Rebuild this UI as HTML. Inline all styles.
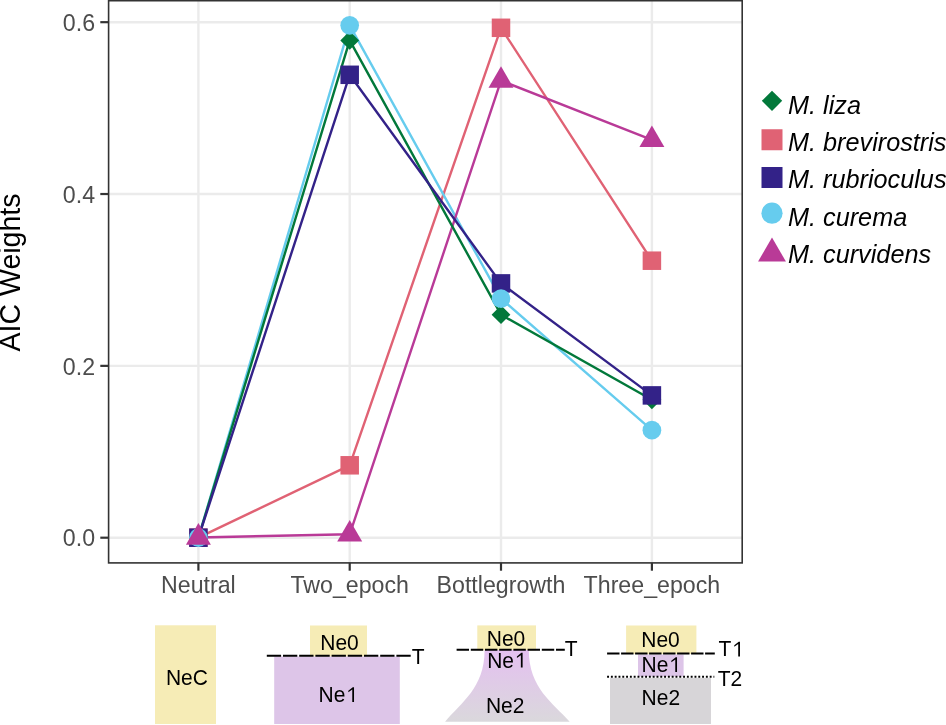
<!DOCTYPE html><html><head><meta charset="utf-8"><style>html,body{margin:0;padding:0;background:#fff;}svg{display:block;will-change:transform}text{font-family:"Liberation Sans",sans-serif;}</style></head><body>
<svg width="946" height="725" viewBox="0 0 946 725">
<rect width="946" height="725" fill="#fff"/>
<line x1="108.6" y1="537.70" x2="742.2" y2="537.70" stroke="#EBEBEB" stroke-width="2.4"/>
<line x1="108.6" y1="365.86" x2="742.2" y2="365.86" stroke="#EBEBEB" stroke-width="2.4"/>
<line x1="108.6" y1="194.02" x2="742.2" y2="194.02" stroke="#EBEBEB" stroke-width="2.4"/>
<line x1="108.6" y1="22.18" x2="742.2" y2="22.18" stroke="#EBEBEB" stroke-width="2.4"/>
<line x1="198.4" y1="0.7" x2="198.4" y2="562.9" stroke="#EBEBEB" stroke-width="2.4"/>
<line x1="349.7" y1="0.7" x2="349.7" y2="562.9" stroke="#EBEBEB" stroke-width="2.4"/>
<line x1="501.0" y1="0.7" x2="501.0" y2="562.9" stroke="#EBEBEB" stroke-width="2.4"/>
<line x1="651.9" y1="0.7" x2="651.9" y2="562.9" stroke="#EBEBEB" stroke-width="2.4"/>
<polyline points="198.40,537.70 349.70,465.30 501.00,27.80 651.90,260.70" fill="none" stroke="#E06274" stroke-width="2.4" stroke-linejoin="round" stroke-linecap="butt"/>
<polyline points="198.40,537.70 349.70,25.30 501.00,298.60 651.90,430.20" fill="none" stroke="#66CCEE" stroke-width="2.4" stroke-linejoin="round" stroke-linecap="butt"/>
<polyline points="198.40,537.50 349.70,534.30 501.00,80.60 651.90,139.90" fill="none" stroke="#B93A97" stroke-width="2.4" stroke-linejoin="round" stroke-linecap="butt"/>
<polyline points="198.40,537.70 349.70,40.40 501.00,314.70 651.90,399.80" fill="none" stroke="#02783A" stroke-width="2.4" stroke-linejoin="round" stroke-linecap="butt"/>
<polyline points="198.40,537.70 349.70,74.80 501.00,283.40 651.90,395.40" fill="none" stroke="#332288" stroke-width="2.4" stroke-linejoin="round" stroke-linecap="butt"/>
<polygon points="189.00,537.70 198.40,528.30 207.80,537.70 198.40,547.10" fill="#02783A"/>
<polygon points="340.30,40.40 349.70,31.00 359.10,40.40 349.70,49.80" fill="#02783A"/>
<polygon points="491.60,314.70 501.00,305.30 510.40,314.70 501.00,324.10" fill="#02783A"/>
<polygon points="642.50,399.80 651.90,390.40 661.30,399.80 651.90,409.20" fill="#02783A"/>
<rect x="189.15" y="528.45" width="18.50" height="18.50" fill="#E06274"/>
<rect x="340.45" y="456.05" width="18.50" height="18.50" fill="#E06274"/>
<rect x="491.75" y="18.55" width="18.50" height="18.50" fill="#E06274"/>
<rect x="642.65" y="251.45" width="18.50" height="18.50" fill="#E06274"/>
<rect x="189.15" y="528.45" width="18.50" height="18.50" fill="#332288"/>
<rect x="340.45" y="65.55" width="18.50" height="18.50" fill="#332288"/>
<rect x="491.75" y="274.15" width="18.50" height="18.50" fill="#332288"/>
<rect x="642.65" y="386.15" width="18.50" height="18.50" fill="#332288"/>
<circle cx="198.40" cy="537.70" r="9.35" fill="#66CCEE"/>
<circle cx="349.70" cy="25.30" r="9.35" fill="#66CCEE"/>
<circle cx="501.00" cy="298.60" r="9.35" fill="#66CCEE"/>
<circle cx="651.90" cy="430.20" r="9.35" fill="#66CCEE"/>
<polygon points="198.40,523.10 210.87,544.70 185.93,544.70" fill="#B93A97"/>
<polygon points="349.70,519.90 362.17,541.50 337.23,541.50" fill="#B93A97"/>
<polygon points="501.00,66.20 513.47,87.80 488.53,87.80" fill="#B93A97"/>
<polygon points="651.90,125.50 664.37,147.10 639.43,147.10" fill="#B93A97"/>
<rect x="108.6" y="0.7" width="633.60" height="562.20" fill="none" stroke="#333333" stroke-width="1.6"/>
<line x1="100.3" y1="537.70" x2="108.6" y2="537.70" stroke="#333333" stroke-width="2.2"/>
<text transform="translate(95.10,546.40) scale(1.0,1.035)" font-size="23.2" fill="#4D4D4D" text-anchor="end">0.0</text>
<line x1="100.3" y1="365.86" x2="108.6" y2="365.86" stroke="#333333" stroke-width="2.2"/>
<text transform="translate(95.10,374.56) scale(1.0,1.035)" font-size="23.2" fill="#4D4D4D" text-anchor="end">0.2</text>
<line x1="100.3" y1="194.02" x2="108.6" y2="194.02" stroke="#333333" stroke-width="2.2"/>
<text transform="translate(95.10,202.72) scale(1.0,1.035)" font-size="23.2" fill="#4D4D4D" text-anchor="end">0.4</text>
<line x1="100.3" y1="22.18" x2="108.6" y2="22.18" stroke="#333333" stroke-width="2.2"/>
<text transform="translate(95.10,30.88) scale(1.0,1.035)" font-size="23.2" fill="#4D4D4D" text-anchor="end">0.6</text>
<line x1="198.4" y1="562.9" x2="198.4" y2="570.7" stroke="#333333" stroke-width="2.2"/>
<text transform="translate(198.40,593.00) scale(1.0,1.035)" font-size="23.2" fill="#4D4D4D" text-anchor="middle">Neutral</text>
<line x1="349.7" y1="562.9" x2="349.7" y2="570.7" stroke="#333333" stroke-width="2.2"/>
<text transform="translate(349.70,593.00) scale(1.0,1.035)" font-size="23.2" fill="#4D4D4D" text-anchor="middle">Two_epoch</text>
<line x1="501.0" y1="562.9" x2="501.0" y2="570.7" stroke="#333333" stroke-width="2.2"/>
<text transform="translate(501.00,593.00) scale(1.0,1.035)" font-size="23.2" fill="#4D4D4D" text-anchor="middle">Bottlegrowth</text>
<line x1="651.9" y1="562.9" x2="651.9" y2="570.7" stroke="#333333" stroke-width="2.2"/>
<text transform="translate(651.90,593.00) scale(1.0,1.035)" font-size="23.2" fill="#4D4D4D" text-anchor="middle">Three_epoch</text>
<text transform="translate(20.10,272.50) rotate(-90) scale(1.0,1.035)" font-size="28.5" fill="#000" text-anchor="middle">AIC Weights</text>
<polygon points="761.80,100.85 772.00,90.65 782.20,100.85 772.00,111.05" fill="#02783A"/>
<text transform="translate(788.00,113.60) scale(1.0,1.035)" font-size="25.25" fill="#000" text-anchor="start" font-style="italic">M. liza</text>
<rect x="761.50" y="129.25" width="21.00" height="21.00" fill="#E06274"/>
<text transform="translate(788.00,150.80) scale(1.0,1.035)" font-size="25.25" fill="#000" text-anchor="start" font-style="italic">M. brevirostris</text>
<rect x="761.50" y="167.00" width="21.00" height="21.00" fill="#332288"/>
<text transform="translate(788.00,188.40) scale(1.0,1.035)" font-size="25.25" fill="#000" text-anchor="start" font-style="italic">M. rubrioculus</text>
<circle cx="772.00" cy="213.20" r="10.60" fill="#66CCEE"/>
<text transform="translate(788.00,225.80) scale(1.0,1.035)" font-size="25.25" fill="#000" text-anchor="start" font-style="italic">M. curema</text>
<polygon points="772.00,237.45 785.94,261.60 758.06,261.60" fill="#B93A97"/>
<text transform="translate(788.00,262.50) scale(1.0,1.035)" font-size="25.25" fill="#000" text-anchor="start" font-style="italic">M. curvidens</text>
<rect x="155" y="625.3" width="61" height="98.70000000000005" fill="#F6ECB6"/>
<text transform="translate(165.88,684.80) scale(1.0,1.02)" font-size="21.0" fill="#000" text-anchor="start">NeC</text>
<rect x="310" y="625.5" width="57" height="31" fill="#F6ECB6"/>
<rect x="274.2" y="656.5" width="125.6" height="67.5" fill="#DDC5E8"/>
<line x1="266.8" y1="655.7" x2="411.2" y2="655.7" stroke="#000" stroke-width="2.0" stroke-dasharray="14.3 1.9"/>
<text transform="translate(320.28,649.80) scale(1.0,1.02)" font-size="21.0" fill="#000" text-anchor="start">Ne0</text>
<text transform="translate(318.58,701.90) scale(1.0,1.02)" font-size="21.0" fill="#000" text-anchor="start">Ne</text><polygon points="352.27,701.90 354.02,701.90 354.02,687.16 352.77,687.16 348.32,690.76 348.32,692.36 352.27,689.46" fill="#000"/>
<text transform="translate(411.74,663.50) scale(1.0,1.02)" font-size="21.0" fill="#000" text-anchor="start">T</text>
<rect x="477.3" y="625.4" width="58.7" height="25" fill="#F6ECB6"/>
<defs><linearGradient id="bg" x1="0" y1="0" x2="0" y2="1"><stop offset="0" stop-color="#E4C0F0"/><stop offset="1" stop-color="#DAD8DC"/></linearGradient></defs>
<path d="M484.6,650 C484.6,688.3 460.5,702.9 445.1,721.7 L569.7,721.7 C553.1,702.9 528.8,688.3 528.8,650 Z" fill="url(#bg)"/>
<line x1="456.6" y1="649.7" x2="564.8" y2="649.7" stroke="#000" stroke-width="2.0" stroke-dasharray="12.4 1.8"/>
<text transform="translate(486.78,645.60) scale(1.0,1.02)" font-size="21.0" fill="#000" text-anchor="start">Ne0</text>
<text transform="translate(487.18,667.60) scale(1.0,1.02)" font-size="21.0" fill="#000" text-anchor="start">Ne</text><polygon points="520.87,667.60 522.62,667.60 522.62,652.86 521.37,652.86 516.92,656.46 516.92,658.06 520.87,655.16" fill="#000"/>
<text transform="translate(485.88,713.00) scale(1.0,1.02)" font-size="21.0" fill="#000" text-anchor="start">Ne2</text>
<text transform="translate(564.64,656.00) scale(1.0,1.02)" font-size="21.0" fill="#000" text-anchor="start">T</text>
<rect x="626.1" y="625.5" width="70.3" height="28.5" fill="#F6ECB6"/>
<rect x="638" y="654.5" width="45.6" height="22" fill="#DDC5E8"/>
<rect x="610" y="678" width="101" height="46" fill="#D7D5D8"/>
<line x1="607.1" y1="653.5" x2="714.8" y2="653.5" stroke="#000" stroke-width="2.0" stroke-dasharray="12.4 1.6"/>
<line x1="607.1" y1="676.8" x2="714.3" y2="676.8" stroke="#000" stroke-width="2" stroke-dasharray="1.9 1.9"/>
<text transform="translate(641.28,646.70) scale(1.0,1.02)" font-size="21.0" fill="#000" text-anchor="start">Ne0</text>
<text transform="translate(641.58,671.90) scale(1.0,1.02)" font-size="21.0" fill="#000" text-anchor="start">Ne</text><polygon points="675.27,671.90 677.02,671.90 677.02,657.16 675.77,657.16 671.32,660.76 671.32,662.36 675.27,659.46" fill="#000"/>
<text transform="translate(641.58,705.00) scale(1.0,1.02)" font-size="21.0" fill="#000" text-anchor="start">Ne2</text>
<text transform="translate(718.54,656.40) scale(1.0,1.02)" font-size="21.0" fill="#000" text-anchor="start">T</text><polygon points="738.22,656.40 739.97,656.40 739.97,641.66 738.72,641.66 734.27,645.26 734.27,646.86 738.22,643.96" fill="#000"/>
<text transform="translate(717.64,685.70) scale(1.0,1.02)" font-size="21.0" fill="#000" text-anchor="start">T2</text>
</svg></body></html>
